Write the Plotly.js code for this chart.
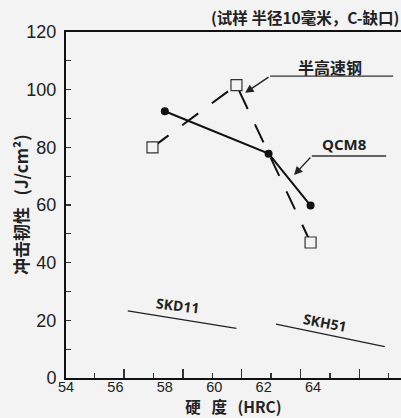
<!DOCTYPE html>
<html><head><meta charset="utf-8">
<script src="https://cdn.plot.ly/plotly-3.0.1.min.js"></script>
<style>html,body{margin:0;padding:0;background:#f3f3f3}</style>
</head><body><div id="chart" style="width:401px;height:418px"></div>
<script>
// Data
const qcm8Hardness = [58.0, 62.2, 63.9];
const qcm8Toughness = [92.5, 77.8, 59.8];
const semiHssHardness = [57.5, 60.9, 63.9];
const semiHssToughness = [80.0, 101.6, 47.0];
const skd11Hardness = [56.5, 60.9];
const skd11Toughness = [23.3, 17.2];
const skh51Hardness = [62.5, 66.9];
const skh51Toughness = [18.7, 10.9];
const xTickVals = [54, 56, 58, 60, 62, 64];
const xTickText = ['54', '56', '58', '60', '62', '64'];
const yTickVals = [0, 20, 40, 60, 80, 100, 120];
const yTickText = ['0', '20', '40', '60', '80', '100', '120'];

const BG = '#f3f3f3';
const CJK = '"Noto Sans CJK SC", "Noto Sans", sans-serif';

const traces = [
  {x: semiHssHardness, y: semiHssToughness, mode: 'lines+markers', name: '半高速钢',
   line: {color: '#111', width: 2, dash: '20px,17px'},
   marker: {symbol: 'square', size: 11, color: BG, line: {color: '#333', width: 1.2}}},
  {x: qcm8Hardness, y: qcm8Toughness, mode: 'lines+markers', name: 'QCM8',
   line: {color: '#111', width: 2},
   marker: {symbol: 'circle', size: 8, color: '#111'}},
  {x: skd11Hardness, y: skd11Toughness, mode: 'lines', name: 'SKD11',
   line: {color: '#222', width: 1.3}},
  {x: skh51Hardness, y: skh51Toughness, mode: 'lines', name: 'SKH51',
   line: {color: '#222', width: 1.3}},
  // invisible trace carrying the labelled hardness axis
  {x: [54], y: [0], xaxis: 'x2', mode: 'markers', marker: {opacity: 0}, hoverinfo: 'skip', showlegend: false}
];

const layout = {
  width: 401, height: 418,
  margin: {l: 66, r: 0, t: 32, b: 40},
  paper_bgcolor: BG, plot_bgcolor: BG,
  showlegend: false,
  font: {family: CJK, color: '#111'},
  xaxis: {
    range: [54, 67.56], showgrid: false, zeroline: false,
    showline: true, linecolor: '#111', linewidth: 2, mirror: true,
    showticklabels: false,
    ticks: 'inside', tickmode: 'linear', tick0: 56.35, dtick: 2.38, ticklen: 9, tickwidth: 1.3, tickcolor: '#333',
    minor: {ticks: 'inside', tick0: 55.16, dtick: 1.19, ticklen: 5, tickwidth: 1.3, tickcolor: '#333', showgrid: false}
  },
  xaxis2: {
    overlaying: 'x', anchor: 'y', side: 'bottom',
    range: [54, 67.56], showgrid: false, zeroline: false, showline: false,
    ticks: '', tickmode: 'array', tickvals: xTickVals, ticktext: xTickText,
    tickfont: {family: '"Liberation Sans", Arial, sans-serif', size: 14.5, color: '#222'},
    ticklabelstandoff: -2,
    title: {text: '<b>硬&nbsp;&nbsp;&nbsp;度&nbsp;&nbsp;&nbsp;(HRC)</b>', font: {family: CJK, size: 15.5, color: '#222'}, standoff: 8}
  },
  yaxis: {
    range: [0, 120], showgrid: false, zeroline: false,
    showline: true, linecolor: '#111', linewidth: 2,
    ticks: 'inside', ticklen: 5, tickwidth: 1.3, tickcolor: '#333',
    tickmode: 'array', tickvals: yTickVals, ticktext: yTickText,
    minor: {ticks: 'inside', dtick: 10, ticklen: 5, tickwidth: 1.3, tickcolor: '#333'},
    tickfont: {family: '"Liberation Sans Narrow", "Arial Narrow", "Liberation Sans", sans-serif', size: 18, color: '#222'},
    ticklabelstandoff: 4
  },
  shapes: [
    {type: 'line', xref: 'x', yref: 'y', x0: 62.26, y0: 104.7, x1: 67.24, y1: 104.7, line: {color: '#333', width: 1.3}},
    {type: 'line', xref: 'x', yref: 'y', x0: 63.95, y0: 77.0, x1: 66.96, y1: 77.0, line: {color: '#333', width: 1.3}}
  ],
  annotations: [
    {xref: 'paper', yref: 'paper', x: -0.137, y: 0.5, xanchor: 'center', yanchor: 'middle', textangle: -90, showarrow: false,
     text: '<b>冲击韧性&nbsp;&nbsp;&nbsp;(J/cm²)</b>', font: {family: CJK, size: 17, color: '#222'}},
    {xref: 'paper', yref: 'paper', x: 1, y: 1, xanchor: 'right', yanchor: 'bottom', yshift: 2,
     text: '<b>(试样 半径10毫米，C-缺口)</b>', showarrow: false, font: {family: CJK, size: 15.5, color: '#222'}},
    {xref: 'x', yref: 'y', x: 64.69, y: 107.7, text: '<b>半高速钢</b>', showarrow: false,
     font: {family: CJK, size: 16, color: '#222'}},
    {xref: 'x', yref: 'y', x: 65.28, y: 81.3, text: '<b>QCM8</b>', showarrow: false,
     font: {family: '"Open Sans", "Noto Sans", sans-serif', size: 15, color: '#222'}},
    {xref: 'x', yref: 'y', x: 61.25, y: 98.9, axref: 'x', ayref: 'y', ax: 62.26, ay: 104.7,
     text: '', showarrow: true, arrowhead: 2, arrowsize: 1.3, arrowwidth: 1.3, arrowcolor: '#222', standoff: 0},
    {xref: 'x', yref: 'y', x: 63.23, y: 70.4, axref: 'x', ayref: 'y', ax: 63.95, ay: 77.0,
     text: '', showarrow: true, arrowhead: 2, arrowsize: 1.3, arrowwidth: 1.3, arrowcolor: '#222', standoff: 0},
    {xref: 'x', yref: 'y', x: 58.53, y: 25.0, text: '<b>SKD11</b>', showarrow: false, textangle: 7,
     font: {family: '"Open Sans", "Noto Sans", sans-serif', size: 14, color: '#222'}},
    {xref: 'x', yref: 'y', x: 64.47, y: 19.1, text: '<b>SKH51</b>', showarrow: false, textangle: 11,
     font: {family: '"Open Sans", "Noto Sans", sans-serif', size: 14, color: '#222'}}
  ]
};

Plotly.newPlot('chart', traces, layout, {staticPlot: true, displayModeBar: false});
</script></body></html>
